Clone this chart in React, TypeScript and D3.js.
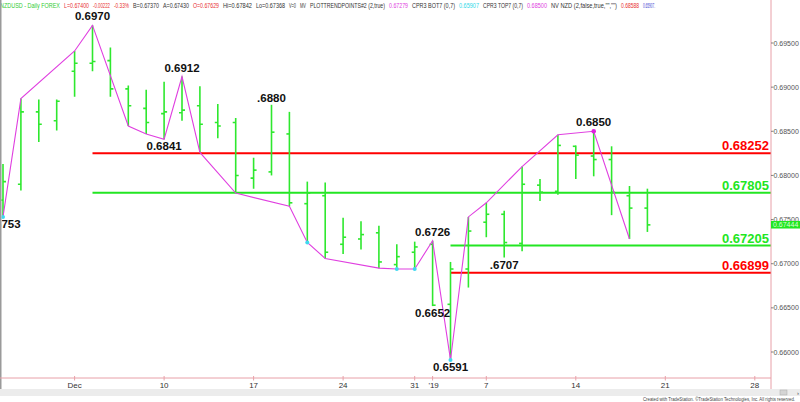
import React from "react";
import * as d3 from "d3";

// ---- data ----
const sessions = [
  "2018-11-27","2018-11-28","2018-11-29","2018-11-30",
  "2018-12-03","2018-12-04","2018-12-05","2018-12-06","2018-12-07",
  "2018-12-10","2018-12-11","2018-12-12","2018-12-13","2018-12-14",
  "2018-12-17","2018-12-18","2018-12-19","2018-12-20","2018-12-21",
  "2018-12-24","2018-12-26","2018-12-27","2018-12-28","2018-12-31",
  "2019-01-02","2019-01-03","2019-01-04",
  "2019-01-07","2019-01-08","2019-01-09","2019-01-10","2019-01-11",
  "2019-01-14","2019-01-15","2019-01-16","2019-01-17","2019-01-18",
  "2019-01-21","2019-01-22","2019-01-23","2019-01-24","2019-01-25",
  "2019-01-28",
];

const opens  = [0.6772,0.6790,0.6872,0.6862,0.6918,0.6927,0.6930,0.6898,0.6876,0.6870,0.6871,0.6879,0.6860,0.6860,0.6797,0.6804,0.6847,0.6768,0.6777,0.6722,0.6728,0.6735,0.6699,0.6713,0.6722,0.6654,0.6694,0.6747,0.6756,0.6723,0.6789,0.6782,0.6833,0.6822,0.6818,0.6777,0.6763];
const highs  = [0.6813,0.6887,0.6886,0.6886,0.6941,0.6970,0.6945,0.6902,0.6897,0.6906,0.6912,0.6901,0.6881,0.6865,0.6820,0.6880,0.6872,0.6793,0.6792,0.6752,0.6748,0.6743,0.6722,0.6725,0.6726,0.6702,0.6753,0.6769,0.6760,0.6810,0.6796,0.6846,0.6834,0.6850,0.6833,0.6788,0.6785];
const lows   = [0.6753,0.6783,0.6838,0.6851,0.6889,0.6918,0.6889,0.6856,0.6847,0.6841,0.6862,0.6826,0.6842,0.6780,0.6785,0.6800,0.6765,0.6724,0.6706,0.6711,0.6716,0.6695,0.6694,0.6694,0.6652,0.6591,0.6673,0.6730,0.6707,0.6714,0.6771,0.6778,0.6796,0.6799,0.6755,0.6728,0.6736];
const closes = [0.6793,0.6872,0.6858,0.6884,0.6927,0.6929,0.6898,0.6879,0.6860,0.6872,0.6874,0.6858,0.6856,0.6800,0.6806,0.6849,0.6769,0.6780,0.6713,0.6730,0.6733,0.6702,0.6708,0.6719,0.6653,0.6694,0.6737,0.6756,0.6724,0.6790,0.6781,0.6834,0.6823,0.6818,0.6781,0.6763,0.6744];

const pivotIndex = [0,1,4,5,7,8,9,10,11,13,16,17,18,21,22,23,24,25,26,27,29,31,33,35];
const pivotType = "LHHHLLLHLLLLLLLLHLHHHHHL";
const cyanDotIndex = [0,17,22,23,25];
const magentaDotIndex = [33];

const labelIndex = [0,5,9,10,15,24,24,25,28,33];
const labelText = ["0.6753","0.6970","0.6841","0.6912",".6880","0.6726","0.6652","0.6591",".6707","0.6850"];
const labelSide = "LHLHHHLLLH";

const levelValues = [0.68252,0.67805,0.67205,0.66899];
const levelStart = [5,5,25,25];
const levelKind = ["red","green","green","red"];

const yTicks = [0.660,0.665,0.670,0.675,0.680,0.685,0.690,0.695];
const tickDates = ["2018-12-03","2018-12-10","2018-12-17","2018-12-24","2018-12-31","2019-01-02","2019-01-07","2019-01-14","2019-01-21","2019-01-28"];
const tickLabels = ["Dec","10","17","24","31","'19","7","14","21","28"];

const lastPrice = 0.67444;

const headerTexts = ["NZDUSD - Daily  FOREX","L=0.67400","-0.00222","-0.33%","B=0.67370","A=0.67430","O=0.67629","Hi=0.67842","Lo=0.67368","V=0","MV","PLOTTRENDPOINTS#2 (2,true)","0.67279","CPR3 BOT7 (0,7)","0.65907","CPR3 TOP7 (0,7)","0.68500","NV NZD (2,false,true,\"\",\"\")","0.68588","0.65907."];
const headerKinds = ["g","r","r","r","k","k","r","k","k","k","k","k","m","k","c","k","m","k","r","b"];

// ---- layout / style ----
const headerX = [0,64,93,114,133,163,193,223,256,289,300,310,389,412,459,483,527,551,621,643,659];
const kindColor: Record<string,string> = { g:"#33cc33", r:"#e83030", k:"#333333", m:"#e040e0", c:"#30d8e8", b:"#4040d0", red:"#ff0000", green:"#22e622" };
const FONT = "'Liberation Sans', Arial, Helvetica, sans-serif";
const BAR = "#2ee82e";
const AXIS = "#e8a0a8";

export default function App() {
  const x = d3.scalePoint<string>().domain(sessions).range([3, 754.8]);
  const y = d3.scaleLinear().domain([0.660, 0.695]).range([352, 43]);
  const xi = (i: number) => x(sessions[i]) as number;
  const axisX = 771;
  const axisY = 378;

  const pivotPts: [number, number][] = pivotIndex.map((idx, k) => [
    xi(idx),
    y(pivotType[k] === "H" ? highs[idx] : lows[idx]),
  ]);
  const line = d3.line();

  return (
    <div style={{ position: "fixed", left: 0, top: 0 }}>
      <svg width={800} height={402} style={{ display: "block", background: "#fff" }} fontFamily={FONT}>
        <defs>
          <clipPath id="plot">
            <rect x={1.5} y={0} width={axisX - 1.5} height={axisY} />
          </clipPath>
        </defs>

        {/* header */}
        {headerTexts.map((t, i) => (
          <text key={i} x={headerX[i]} y={8} fontSize={6.4} fill={kindColor[headerKinds[i]]}
            textLength={headerX[i + 1] - headerX[i] - 4} lengthAdjust="spacingAndGlyphs">{t}</text>
        ))}

        {/* left border */}
        <line x1={0.75} x2={0.75} y1={0} y2={396} stroke="#9a9a9a" strokeWidth={1.5} />

        <g clipPath="url(#plot)">
          {/* level lines */}
          {levelValues.map((v, i) => (
            <line key={i} x1={xi(levelStart[i])} x2={axisX} y1={y(v)} y2={y(v)}
              stroke={kindColor[levelKind[i]]} strokeWidth={2} />
          ))}

          {/* OHLC bars */}
          {opens.map((o, i) => {
            const cx = xi(i);
            return (
              <g key={i} stroke={BAR} strokeWidth={1.6}>
                <line x1={cx} x2={cx} y1={y(highs[i])} y2={y(lows[i])} />
                <line x1={cx - 3} x2={cx} y1={y(o)} y2={y(o)} />
                <line x1={cx} x2={cx + 3} y1={y(closes[i])} y2={y(closes[i])} />
              </g>
            );
          })}

          {/* trend line */}
          <path d={line(pivotPts) || ""} fill="none" stroke="#e040e0" strokeWidth={1.1} />
          {cyanDotIndex.map((idx) => (
            <circle key={idx} cx={xi(idx)} cy={y(lows[idx])} r={2} fill="#40d8f0" />
          ))}
          {magentaDotIndex.map((idx) => (
            <circle key={idx} cx={xi(idx)} cy={y(highs[idx])} r={2.3} fill="#e020e0" />
          ))}

          {/* pivot labels */}
          {labelIndex.map((idx, k) => {
            const hi = labelSide[k] === "H";
            const yy = hi ? y(highs[idx]) - (labelText[k].startsWith(".") ? 2.5 : 5) : y(lows[idx]) + 11;
            return (
              <text key={k} x={xi(idx)} y={yy} textAnchor="middle" fontSize={11.5} fontWeight="bold" fill="#111">
                {labelText[k]}
              </text>
            );
          })}

          {/* level labels */}
          {levelValues.map((v, i) => (
            <text key={i} x={769} y={y(v) - 3} textAnchor="end" fontSize={13} fontWeight="bold"
              fill={kindColor[levelKind[i]]}>{v.toFixed(5)}</text>
          ))}
        </g>

        {/* right axis */}
        <line x1={axisX} x2={axisX} y1={0} y2={396} stroke={AXIS} strokeWidth={1} />
        {yTicks.map((v) => (
          <g key={v}>
            <line x1={axisX} x2={axisX + 2.5} y1={y(v)} y2={y(v)} stroke="#666" strokeWidth={0.8} />
            <text x={axisX + 2.5} y={y(v) + 2.5} fontSize={7} fill="#555">{v.toFixed(5)}</text>
          </g>
        ))}
        <rect x={axisX} y={y(lastPrice) - 3.6} width={800 - axisX} height={7.6} fill="#22e622" />
        <text x={axisX + 2} y={y(lastPrice) + 2.6} fontSize={7} fill="#d8ffd8">{lastPrice.toFixed(5)}</text>

        {/* bottom axis */}
        <line x1={0} x2={axisX} y1={axisY} y2={axisY} stroke={AXIS} strokeWidth={1} />
        {tickDates.map((d, i) => {
          const tx = x(d) as number;
          return (
            <g key={d}>
              <line x1={tx} x2={tx} y1={axisY - 2} y2={axisY + 2.5} stroke={AXIS} strokeWidth={1} />
              <text x={tx + (tickLabels[i] === "'19" ? 1 : 0)} y={388} textAnchor="middle" fontSize={8} fill="#333">
                {tickLabels[i]}
              </text>
            </g>
          );
        })}

        {/* scroll strip & footer */}
        <rect x={0} y={389} width={800} height={7} fill="#ececec" />
        <rect x={780} y={390} width={7} height={5} fill="#d4d4d4" stroke="#aaa" strokeWidth={0.5} />
        <text x={797} y={394.5} fontSize={6} fill="#444">›</text>
        <text x={643} y={400.8} fontSize={5.6} fill="#444" textLength={152} lengthAdjust="spacingAndGlyphs">
          Created with TradeStation. ©TradeStation Technologies, Inc. All rights reserved.
        </text>
      </svg>
    </div>
  );
}
